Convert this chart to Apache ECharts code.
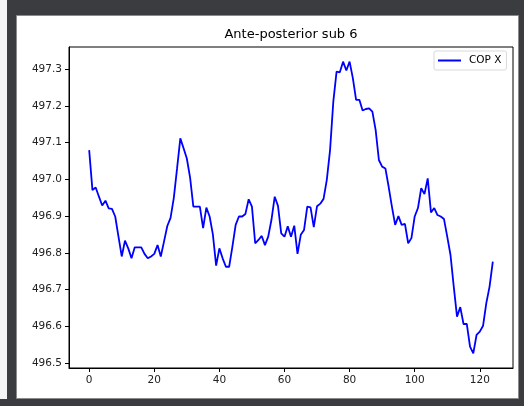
<!DOCTYPE html>
<html>
<head>
<meta charset="utf-8">
<script src="https://cdn.jsdelivr.net/npm/echarts@6/dist/echarts.min.js"></script>
<style>html,body{margin:0;padding:0;background:#3b3c40;}#c{width:524px;height:406px;}</style>
</head>
<body>
<div id="c"></div>
<script>
const title = "Ante-posterior sub 6";
const seriesName = "COP X";
const copX = [
497.080,496.971,496.978,496.953,496.929,496.942,496.921,496.920,496.899,496.844,
496.790,496.833,496.812,496.785,496.815,496.815,496.815,496.797,496.785,496.790,
496.797,496.821,496.790,496.831,496.873,496.895,496.950,497.030,497.112,497.085,
497.057,497.005,496.926,496.926,496.926,496.867,496.923,496.899,496.850,496.765,
496.812,496.785,496.762,496.762,496.817,496.876,496.899,496.899,496.906,496.946,
496.926,496.826,496.835,496.846,496.821,496.844,496.890,496.953,496.928,496.853,
496.844,496.872,496.844,496.874,496.797,496.849,496.862,496.926,496.924,496.870,
496.927,496.934,496.947,496.999,497.080,497.212,497.294,497.292,497.321,497.297,
497.321,497.276,497.217,497.217,497.188,497.192,497.194,497.185,497.135,497.053,
497.035,497.030,496.980,496.926,496.876,496.900,496.876,496.879,496.826,496.840,
496.899,496.922,496.976,496.960,497.003,496.910,496.922,496.903,496.899,496.892,
496.844,496.794,496.708,496.626,496.652,496.606,496.606,496.544,496.526,496.576,
496.585,496.601,496.663,496.708,496.776
];
const xTicks = [0, 20, 40, 60, 80, 100, 120];
const yTicks = [496.5, 496.6, 496.7, 496.8, 496.9, 497.0, 497.1, 497.2, 497.3];

const chart = echarts.init(document.getElementById('c'), null, {renderer: 'canvas'});
const font = 'DejaVu Sans';
const pairs = copX.map((v, i) => [i, v]);
chart.setOption({
  backgroundColor: '#3b3c40',
  animation: false,
  graphic: [
    {type: 'rect', shape: {x: 0, y: 0, width: 7, height: 399}, style: {fill: '#f4f4f4'}, z: -10},
    {type: 'rect', shape: {x: 16.5, y: 15.5, width: 502, height: 383}, style: {fill: '#ffffff', stroke: '#8a8a8a', lineWidth: 1}, z: -10},
    {type: 'text', x: 291, y: 35, style: {text: title, fontFamily: font, fontSize: 13, fill: '#000', textAlign: 'center', textVerticalAlign: 'middle'}, z: 10}
  ],
  grid: {left: 69, right: 11, top: 47, bottom: 38, show: true, borderColor: '#000', borderWidth: 1, backgroundColor: '#fff', containLabel: false},
  legend: {
    data: [seriesName],
    left: 434, top: 51,
    orient: 'vertical',
    icon: 'rect',
    itemWidth: 23, itemHeight: 2,
    padding: [4, 5, 4, 4],
    borderColor: '#d9d9d9', borderWidth: 1, borderRadius: 2,
    backgroundColor: '#fff',
    textStyle: {fontFamily: font, fontSize: 10.5, color: '#000', padding: [0, 0, 0, 3]}
  },
  xAxis: {
    type: 'value', min: -6.2, max: 130.2,
    splitLine: {show: false},
    axisLine: {show: true, onZero: false, lineStyle: {color: '#000', width: 1}},
    axisTick: {show: true, inside: false, length: 4, lineStyle: {color: '#000'}, customValues: xTicks},
    axisLabel: {show: true, margin: 7, fontFamily: font, fontSize: 10.5, color: '#222', customValues: xTicks, formatter: v => String(Math.round(v))}
  },
  yAxis: {
    type: 'value', min: 496.486, max: 497.361,
    splitLine: {show: false},
    axisLine: {show: true, onZero: false, lineStyle: {color: '#000', width: 1}},
    axisTick: {show: true, inside: false, length: 4, lineStyle: {color: '#000'}, customValues: yTicks},
    axisLabel: {show: true, margin: 7, fontFamily: font, fontSize: 10.5, color: '#222', customValues: yTicks, formatter: v => v.toFixed(1)}
  },
  series: [{
    name: seriesName, type: 'line', data: pairs,
    showSymbol: false, symbol: 'none',
    lineStyle: {color: '#0000ff', width: 1.8},
    itemStyle: {color: '#0000ff'}
  }]
});
</script>
</body>
</html>
